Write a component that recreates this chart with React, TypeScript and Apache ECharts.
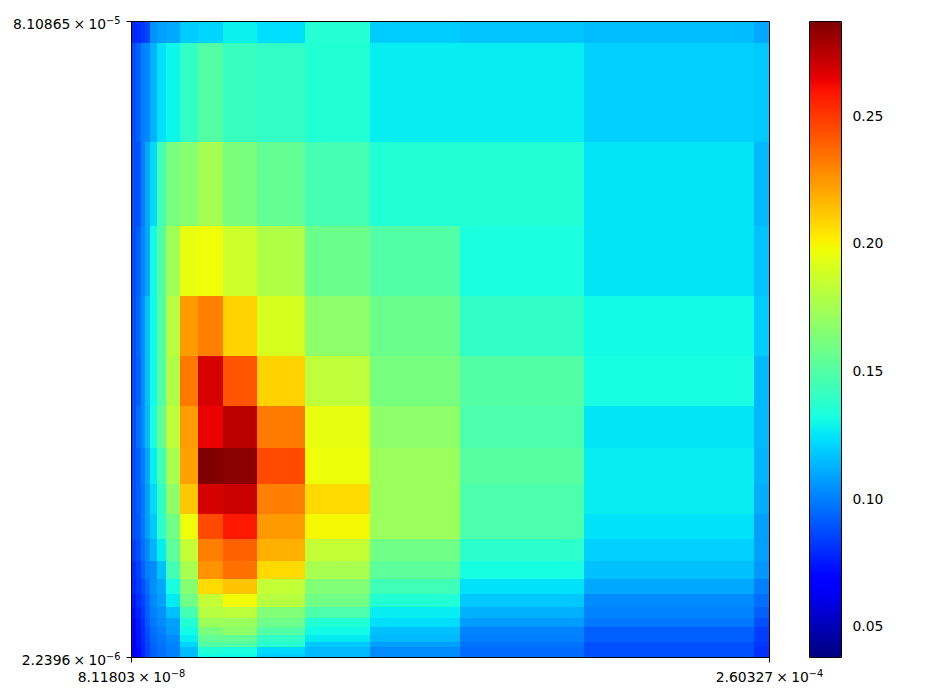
import React, { useEffect, useRef } from "react";
import * as echarts from "echarts";

const xEdges = [8.11803e-8, 8.594e-8, 9.152e-8, 9.63e-8, 1.026e-7, 1.121e-7, 1.256e-7, 1.5e-7, 1.883e-7, 2.584e-7, 3.974e-7, 7.295e-7, 1.66e-6, 5.184e-6, 2.489e-5, 2.14e-4, 2.60327e-4];
const yEdges = [8.10865e-5, 7.183e-5, 4.106e-5, 2.555e-5, 1.721e-5, 1.226e-5, 9.244e-6, 7.29e-6, 5.95e-6, 5.024e-6, 4.362e-6, 3.852e-6, 3.48e-6, 3.197e-6, 2.97e-6, 2.791e-6, 2.653e-6, 2.55e-6, 2.451e-6, 2.383e-6, 2.278e-6, 2.2396e-6];

const row00 = [.078, .080, .082, .086, .104, .108, .110, .119, .121, .128, .123, .136, .119, .117, .115, .110];
const row01 = [.088, .092, .100, .103, .112, .124, .129, .140, .150, .142, .140, .135, .127, .127, .120, .118];
const row02 = [.088, .088, .100, .110, .122, .145, .161, .166, .175, .162, .155, .146, .135, .135, .125, .114];
const row03 = [.088, .092, .102, .110, .130, .150, .1735, .195, .197, .187, .178, .157, .149, .133, .125, .117];
const row04 = [.088, .094, .103, .116, .130, .150, .180, .224, .231, .209, .190, .168, .157, .140, .130, .119];
const row05 = [.088, .092, .103, .116, .130, .150, .178, .233, .268, .242, .209, .182, .161, .150, .132, .114];
const row06 = [.088, .096, .103, .114, .132, .155, .182, .223, .264, .274, .232, .195, .168, .148, .125, .114];
const row07 = [.088, .092, .100, .110, .127, .145, .176, .222, .287, .2845, .245, .197, .172, .151, .127, .113];
const row08 = [.088, .092, .098, .108, .122, .140, .168, .212, .268, .271, .231, .207, .172, .148, .127, .111];
const row09 = [.088, .090, .098, .108, .118, .138, .159, .197, .245, .258, .224, .199, .172, .148, .124, .108];
const row10 = [.084, .088, .096, .103, .113, .127, .153, .184, .231, .239, .218, .184, .159, .138, .120, .108];
const row11 = [.080, .084, .092, .100, .103, .116, .145, .176, .226, .235, .207, .176, .153, .132, .116, .106];
const row12 = [.078, .082, .088, .096, .104, .110, .132, .165, .207, .213, .184, .164, .144, .124, .110, .100];
const row13 = [.075, .080, .085, .093, .102, .108, .126, .159, .184, .198, .180, .159, .135, .118, .103, .096];
const row14 = [.072, .077, .083, .092, .100, .105, .116, .146, .180, .182, .164, .148, .127, .112, .101, .092];
const row15 = [.070, .075, .081, .090, .098, .103, .108, .135, .172, .171, .158, .135, .123, .107, .098, .088];
const row16 = [.069, .074, .080, .088, .096, .100, .107, .130, .162, .168, .150, .130, .116, .101, .092, .084];
const row17 = [.068, .073, .079, .087, .094, .098, .103, .127, .155, .155, .140, .126, .114, .100, .092, .084];
const row18 = [.067, .072, .078, .086, .093, .097, .101, .121, .150, .150, .136, .118, .108, .097, .088, .082];
const row19 = [.066, .071, .077, .085, .092, .096, .100, .115, .135, .133, .122, .114, .103, .095, .088, .080];
const row20 = [.066, .071, .077, .085, .092, .096, .100, .115, .131, .130, .120, .114, .103, .095, .088, .080];
const rows = [row00, row01, row02, row03, row04, row05, row06, row07, row08, row09, row10, row11, row12, row13, row14, row15, row16, row17, row18, row19, row20];

const xTicks = [8.11803e-8, 2.60327e-4];
const yTicks = [2.2396e-6, 8.10865e-5];
const barTicks = [0.05, 0.1, 0.15, 0.2, 0.25];
const vMin = 0.0378;
const vMax = 0.2869;

// matplotlib's jet colour scale, as its published breakpoints
const jetR = [[0, 0], [0.35, 0], [0.66, 1], [0.89, 1], [1, 0.5]];
const jetG = [[0, 0], [0.125, 0], [0.375, 1], [0.64, 1], [0.91, 0], [1, 0]];
const jetB = [[0, 0.5], [0.11, 1], [0.34, 1], [0.65, 0], [1, 0]];
function ramp(stops: number[][], t: number) {
  for (let i = 1; i < stops.length; i++) {
    if (t <= stops[i][0]) {
      const [a, va] = stops[i - 1];
      const [b, vb] = stops[i];
      return va + ((vb - va) * (t - a)) / (b - a);
    }
  }
  return stops[stops.length - 1][1];
}
const jet: string[] = [];
for (let i = 0; i <= 255; i++) {
  const t = i / 255;
  const c = [jetR, jetG, jetB].map((s) => Math.round(ramp(s, t) * 255));
  jet.push(`rgb(${c[0]},${c[1]},${c[2]})`);
}

const cells: number[][] = [];
rows.forEach((r, j) =>
  r.forEach((v, i) => cells.push([xEdges[i], xEdges[i + 1], yEdges[j], yEdges[j + 1], v]))
);

function sciLabel(value: number) {
  const [m, e] = value.toExponential().split("e");
  const mant = parseFloat(parseFloat(m).toPrecision(6));
  const exp = String(parseInt(e, 10)).replace("-", "\u2212");
  return `${mant}{sp| }\u00d7{sp| }10{sup|${exp}}`;
}

const FONT = "DejaVu Sans";
const supRich = {
  sup: { fontSize: 9.8, fontFamily: FONT, color: "#000", padding: [0, 0, 7, 0] },
  sp: { fontSize: 10, fontFamily: FONT, color: "#000" },
};
const logAxisLabel = {
  show: true,
  fontFamily: FONT,
  fontSize: 13.9,
  color: "#000",
  formatter: sciLabel,
  rich: supRich,
  hideOverlap: false,
};

export default function App() {
  const ref = useRef<HTMLDivElement>(null);
  useEffect(() => {
    const chart = echarts.init(ref.current!, undefined, { renderer: "svg" });
    chart.setOption({
      animation: false,
      backgroundColor: "#fff",
      grid: [
        { left: 131.5, top: 21.5, width: 638, height: 636, show: true, backgroundColor: "transparent", borderColor: "#000", borderWidth: 1, z: 5 },
        { left: 809.5, top: 21.5, width: 32, height: 636, show: true, backgroundColor: "transparent", borderColor: "#000", borderWidth: 1, z: 5 },
      ],
      xAxis: [
        {
          type: "log", gridIndex: 0, min: xTicks[0], max: xTicks[1],
          axisLine: { show: false }, splitLine: { show: false }, minorTick: { show: false },
          axisTick: { show: true, length: 5, customValues: xTicks, lineStyle: { color: "#000", width: 1 } },
          axisLabel: { ...logAxisLabel, customValues: xTicks, margin: 11 },
        },
        { type: "value", gridIndex: 1, min: 0, max: 1, show: false },
      ],
      yAxis: [
        {
          type: "log", gridIndex: 0, min: yTicks[0], max: yTicks[1],
          axisLine: { show: false }, splitLine: { show: false }, minorTick: { show: false },
          axisTick: { show: true, length: 5, customValues: yTicks, lineStyle: { color: "#000", width: 1 } },
          axisLabel: { ...logAxisLabel, customValues: yTicks, margin: 11, padding: [5, 0, 0, 0] },
        },
        {
          type: "value", gridIndex: 1, position: "right", min: vMin, max: vMax,
          axisLine: { show: false }, splitLine: { show: false },
          axisTick: { show: true, length: 5, customValues: barTicks, lineStyle: { color: "#000", width: 1 } },
          axisLabel: {
            show: true, customValues: barTicks, margin: 11, fontFamily: FONT, fontSize: 13.9, color: "#000",
            formatter: (v: number) => v.toFixed(2),
          },
        },
      ],
      visualMap: {
        type: "continuous",
        seriesIndex: 0,
        dimension: 4,
        min: vMin,
        max: vMax,
        left: 809.5,
        top: 21.5,
        itemWidth: 32,
        itemHeight: 636,
        padding: 0,
        showLabel: false,
        text: null,
        calculable: false,
        hoverLink: false,
        inRange: { color: jet },
        z: 1,
      },
      series: [
        {
          type: "custom",
          xAxisIndex: 0,
          yAxisIndex: 0,
          data: cells,
          encode: { x: [0, 1], y: [2, 3] },
          clip: true,
          z: 2,
          renderItem: (_p: any, api: any) => {
            const a = api.coord([api.value(0), api.value(2)]);
            const b = api.coord([api.value(1), api.value(3)]);
            const x0 = Math.round(a[0]);
            const x1 = Math.round(b[0]);
            const y0 = Math.round(a[1]);
            const y1 = Math.round(b[1]);
            return {
              type: "rect",
              shape: { x: x0, y: y0, width: x1 - x0, height: y1 - y0 },
              style: { fill: api.visual("color"), stroke: null },
            };
          },
        },
      ],
    });
    return () => chart.dispose();
  }, []);
  return <div ref={ref} style={{ position: "fixed", left: 0, top: 0, width: 944, height: 697 }} />;
}
